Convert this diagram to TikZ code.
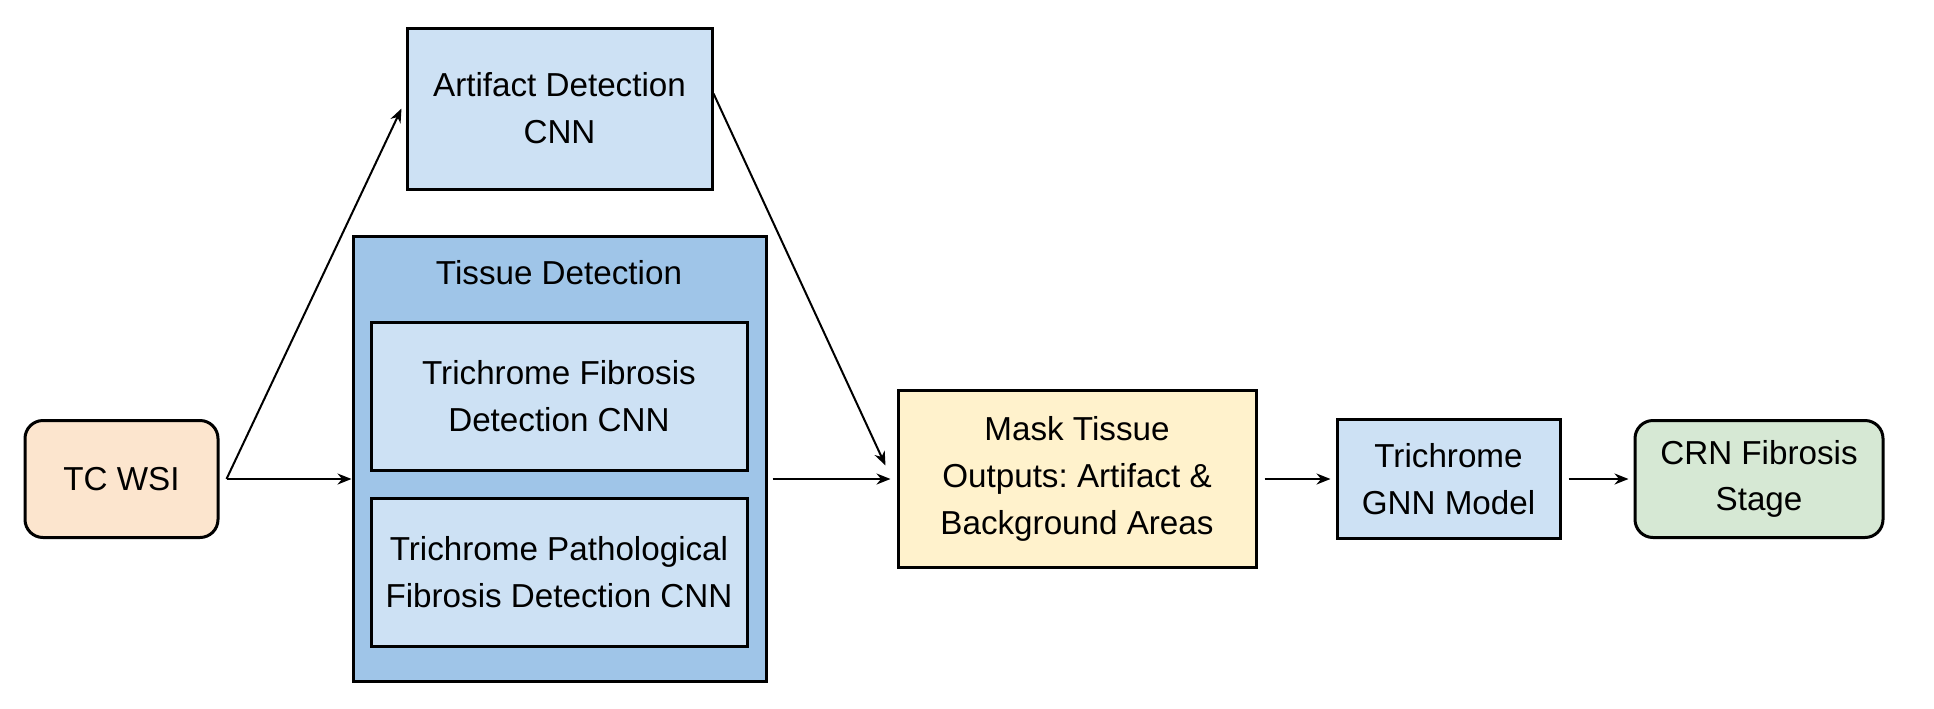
\documentclass[tikz,border=0pt]{standalone}
\usepackage{fontspec}
\setmainfont{Liberation Sans}
\frenchspacing
\usetikzlibrary{arrows.meta}
\definecolor{peach}{HTML}{FCE5CE}
\definecolor{paleblue}{HTML}{CDE1F4}
\definecolor{midblue}{HTML}{9FC5E8}
\definecolor{paleyellow}{HTML}{FFF2CC}
\definecolor{palegreen}{HTML}{D6E8D4}
\tikzset{
  box/.style={draw,line width=1.5pt,align=center,inner sep=0pt,
              font=\fontsize{16.6}{23.4}\selectfont},
  term/.style={box,rounded corners=9pt},
  link/.style={->,line width=1pt}
}

\begin{document}
\begin{tikzpicture}[x=0.5pt,y=-0.5pt,>={Stealth[length=7pt,width=5.5pt]}]
% 画布 1934 x 708 像素，1 像素 = 0.5pt，y 向下
\useasboundingbox (0,0) rectangle (1934,708);
% ---------- 输入与伪影检测 ----------
\node[term,fill=peach,minimum width=96.5pt,minimum height=58.5pt]
  (wsi) at (121.5,479) {TC WSI};
\node[box,fill=paleblue,minimum width=152.5pt,minimum height=80.5pt]
  (art) at (559.5,108.5) {Artifact Detection\\CNN};
% ---------- 组织检测（外框 + 两个子网络） ----------
\node[box,fill=midblue,minimum width=206.5pt,minimum height=222.5pt]
  (tissue) at (559.5,458.5) {};
\node[font=\fontsize{16.6}{20}\selectfont] (tissuetitle) at (559,273) {Tissue Detection};
\node[box,fill=paleblue,minimum width=188pt,minimum height=74pt]
  (fib) at (559,396) {Trichrome Fibrosis\\Detection CNN};
\node[box,fill=paleblue,minimum width=188pt,minimum height=74pt]
  (path) at (559,572) {Trichrome Pathological\\Fibrosis Detection CNN};
% ---------- 掩膜、GNN 与分期（中心线 y=479） ----------
\node[box,fill=paleyellow,minimum width=179pt,minimum height=88.5pt]
  (mask) at (1077,479) {Mask Tissue\\Outputs: Artifact \&\\Background Areas};
\node[box,fill=paleblue,minimum width=111.5pt,minimum height=59.5pt]
  (gnn) at (1448.5,479) {Trichrome\\GNN Model};
\node[term,fill=palegreen,minimum width=124pt,minimum height=58.5pt]
  (crn) at (1759,479) {CRN Fibrosis\\Stage};
% ---------- 连线 ----------
\coordinate (split) at ([xshift=3.5pt]wsi.east);
\draw[link] (split) -- ([xshift=-2pt]art.west);
\draw[link] (split) -- (split -| tissue.west);
\draw[link] ([yshift=7.5pt]art.east) -- ([xshift=-5.5pt,yshift=6.75pt]mask.west);
\draw[link] ([xshift=2.5pt]tissue.east |- mask.west) -- ([xshift=-3pt]mask.west);
\foreach \a/\b in {mask/gnn,gnn/crn}
  \draw[link] ([xshift=3.5pt]\a.east) -- ([xshift=-2.5pt]\b.west);
\end{tikzpicture}
\end{document}
